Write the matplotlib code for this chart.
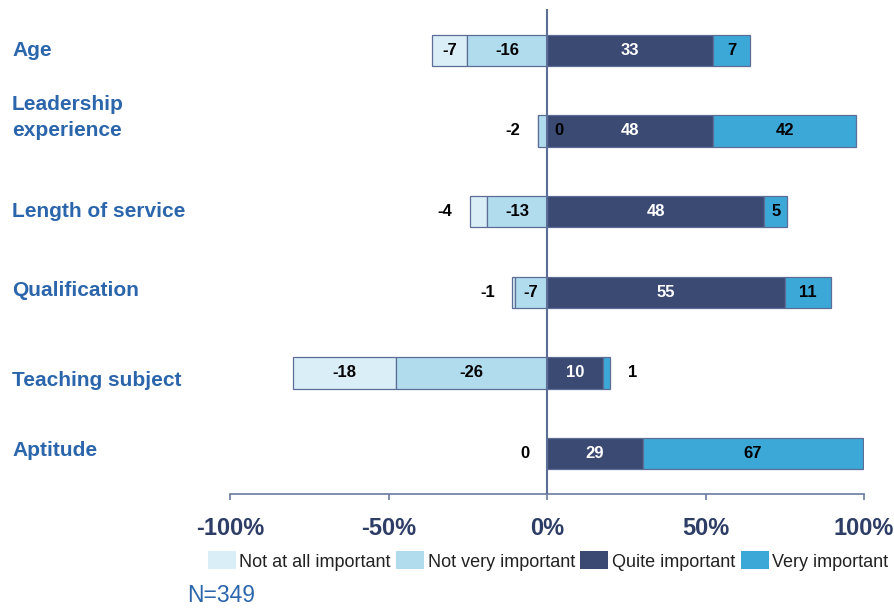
import matplotlib
matplotlib.use("Agg")
import matplotlib.pyplot as plt
from matplotlib.patches import Patch

plt.rcParams['font.family'] = ['Liberation Sans', 'DejaVu Sans']

# Rows, top to bottom
categories = ["Age", "Leadership\nexperience", "Length of service",
              "Qualification", "Teaching subject", "Aptitude"]
series_names = ["Not at all important", "Not very important",
                "Quite important", "Very important"]

# Segment lengths (% of axis) as drawn in the picture
not_at_all = [10.9, 0.0, 5.5, 0.9, 32.6, 0.0]
not_very = [25.3, 2.9, 18.8, 10.0, 47.6, 0.0]
quite = [52.5, 52.5, 68.5, 75.1, 17.6, 30.2]
very = [11.5, 44.9, 7.3, 14.5, 2.3, 69.6]

# Value labels printed on the chart
lab_not_at_all = ["-7", None, "-4", "-1", "-18", "0"]
lab_not_very = ["-16", "-2", "-13", "-7", "-26", None]
lab_quite = ["33", "48", "48", "55", "10", "29"]
lab_very = ["7", "42", "5", "11", "1", "67"]
extra_labels = [(1, "0", 3.8)]   # stray label inside the Leadership bar

colors = ["#daeef7", "#b1dcee", "#3b4a73", "#3ca8d7"]
text_colors = ["black", "black", "white", "black"]
edge = "#5c6e96"
cat_color = "#2b66ac"
tick_color = "#2d3d66"

fig = plt.figure(figsize=(8.94, 6.08), dpi=100)
ax = fig.add_axes([230 / 894, 1 - 494 / 608, 634 / 894, 485 / 608])

rows = list(range(len(categories)))
h = 0.39

# negative side
left_naa = [-(a + b) for a, b in zip(not_at_all, not_very)]
left_nv = [-b for b in not_very]
ax.barh(rows, not_at_all, left=left_naa, height=h, color=colors[0], edgecolor=edge, linewidth=0.9)
ax.barh(rows, not_very, left=left_nv, height=h, color=colors[1], edgecolor=edge, linewidth=0.9)
# positive side
ax.barh(rows, quite, left=0, height=h, color=colors[2], edgecolor=edge, linewidth=0.9)
ax.barh(rows, very, left=quite, height=h, color=colors[3], edgecolor=edge, linewidth=0.9)

label_kw = dict(fontsize=12, fontweight="bold", va="center")
segments = [
    (not_at_all, left_naa, lab_not_at_all, 0),
    (not_very, left_nv, lab_not_very, 1),
    (quite, [0] * len(rows), lab_quite, 2),
    (very, quite, lab_very, 3),
]
for widths, lefts, labels, k in segments:
    for i in rows:
        if labels[i] is None:
            continue
        w = widths[i]
        if w >= 6:
            ax.text(lefts[i] + w / 2, i, labels[i], ha="center", color=text_colors[k], **label_kw)
        elif k < 2:
            # small negative segment: label outside on the left
            bar_left = -(not_at_all[i] + not_very[i])
            ax.text(bar_left - 5.5, i, labels[i], ha="right", color="black", **label_kw)
        else:
            bar_right = quite[i] + very[i]
            ax.text(bar_right + 5.5, i, labels[i], ha="left", color="black", **label_kw)
for i, txt, x in extra_labels:
    ax.text(x, i, txt, ha="center", color="black", **label_kw)

ax.set_xlim(-100, 100)
ax.set_ylim(5.502, -0.512)
ax.axvline(0, color=edge, linewidth=1.5)

ax.set_xticks([-100, -50, 0, 50, 100])
ax.set_xticklabels(["-100%", "-50%", "0%", "50%", "100%"])
ax.set_yticks([])
for s in ["left", "right", "top"]:
    ax.spines[s].set_visible(False)
ax.spines["bottom"].set_color("#6b7ca0")
ax.spines["bottom"].set_linewidth(1.2)
ax.tick_params(axis="x", direction="out", length=4.5, width=1.2, color="#6b7ca0",
               pad=12, labelsize=17, labelcolor=tick_color)
for t in ax.get_xticklabels():
    t.set_fontweight("bold")

# category names on the left
label_shift = [0.0, -0.17, 0.0, -0.02, 0.1, -0.04]
for i, name in enumerate(categories):
    y_pix = 9 + (i + label_shift[i] + 0.512) / (5.502 + 0.512) * 485
    fig.text(12 / 894, 1 - y_pix / 608, name, ha="left", va="center",
             fontsize=15, fontweight="bold", color=cat_color, linespacing=1.45)

handles = [Patch(facecolor=c, edgecolor="none") for c in colors]
fig.legend(handles, series_names, loc="center", ncol=4, frameon=False,
           bbox_to_anchor=(548 / 894, 1 - 561 / 608), fontsize=13,
           handlelength=1.55, handleheight=1.15, handletextpad=0.2,
           columnspacing=0.3, borderpad=0, labelcolor="#222222")

fig.text(187 / 894, 1 - 595 / 608, "N=349", ha="left", va="center",
         fontsize=16.5, color=cat_color)

fig.savefig("out.png", dpi=100)
